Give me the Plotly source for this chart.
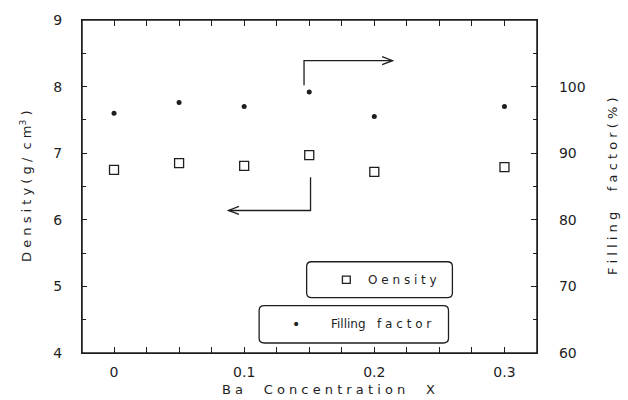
import plotly.graph_objects as go

ba_x = [0, 0.05, 0.1, 0.15, 0.2, 0.3]
density = [6.75, 6.85, 6.81, 6.97, 6.72, 6.79]
filling = [96.0, 97.6, 97.0, 99.2, 95.5, 97.0]
x_tick_vals = [0, 0.1, 0.2, 0.3]
x_tick_text = ["0", "0.1", "0.2", "0.3"]
y2_tick_vals = [60, 70, 80, 90, 100]

ink = "#1e1e1e"
font_family = "DejaVu Sans"

W, H = 628, 400
ml, mr, mt, mb = 82, 91, 14, 47
pw, ph = W - ml - mr, H - mt - mb
x_range = [-0.0246, 0.325]


def px(xp):
    return (xp - ml) / pw


def py(yp):
    return (H - mb - yp) / ph


fig = go.Figure()
fig.add_trace(go.Scatter(x=ba_x, y=density, mode="markers", name="Density",
                         marker=dict(symbol="square-open", size=9, color=ink, line=dict(width=1.3, color=ink)),
                         xaxis="x", yaxis="y", showlegend=False))
fig.add_trace(go.Scatter(x=ba_x, y=filling, mode="markers", name="Filling factor",
                         marker=dict(symbol="circle", size=5, color=ink),
                         xaxis="x", yaxis="y2", showlegend=False))

shapes = []
line = dict(color=ink, width=1.3)
# plot frame
shapes.append(dict(type="rect", xref="paper", yref="paper", x0=0, x1=1, y0=0, y1=1,
                   line=dict(color=ink, width=1.5), layer="above"))
# upper arrow (to right axis)
shapes.append(dict(type="path", xref="x", yref="y", line=line,
                   path="M 0.146 8.02 L 0.146 8.39 L 0.214 8.39"))
shapes.append(dict(type="path", xref="x", yref="y", line=line,
                   path="M 0.206 8.45 L 0.214 8.39 L 0.206 8.33"))
# lower arrow (to left axis)
shapes.append(dict(type="path", xref="x", yref="y", line=line,
                   path="M 0.151 6.64 L 0.151 6.14 L 0.088 6.14"))
shapes.append(dict(type="path", xref="x", yref="y", line=line,
                   path="M 0.096 6.20 L 0.088 6.14 L 0.096 6.08"))


def rounded(x0, x1, y0, y1, rx=0.004, ry=0.07):
    return (f"M {x0+rx} {y1} L {x1-rx} {y1} Q {x1} {y1} {x1} {y1-ry} "
            f"L {x1} {y0+ry} Q {x1} {y0} {x1-rx} {y0} L {x0+rx} {y0} "
            f"Q {x0} {y0} {x0} {y0+ry} L {x0} {y1-ry} Q {x0} {y1} {x0+rx} {y1} Z")

shapes.append(dict(type="path", xref="x", yref="y", line=line,
                   path=rounded(0.148, 0.26, 4.83, 5.37)))
shapes.append(dict(type="path", xref="x", yref="y", line=line,
                   path=rounded(0.1115, 0.257, 4.15, 4.71)))
# legend key square for Density
shapes.append(dict(type="rect", xref="x", yref="y", line=dict(color=ink, width=1.3),
                   x0=0.1755, x1=0.1815, y0=5.045, y1=5.155))

annotations = [
    dict(x=0.222, y=5.10, xref="x", yref="y", text="O e n s i t y", showarrow=False,
         font=dict(size=12, color=ink, family=font_family)),
    dict(x=0.140, y=4.43, xref="x", yref="y", text="•", showarrow=False,
         font=dict(size=14, color=ink, family=font_family)),
    dict(x=0.205, y=4.43, xref="x", yref="y", text="Filling &nbsp; f a c t o r", showarrow=False,
         font=dict(size=12, color=ink, family=font_family)),
    dict(x=px(26), y=py(183), xref="paper", yref="paper", xanchor="center", yanchor="middle",
         text="D e n s i t y ( g /  c m<sup>3</sup> )", textangle=-90, showarrow=False,
         font=dict(size=13, color=ink, family=font_family)),
    dict(x=px(612), y=py(183), xref="paper", yref="paper", xanchor="center", yanchor="middle",
         text="F i l l i n g &nbsp; &nbsp; f a c t o r ( % )", textangle=-90, showarrow=False,
         font=dict(size=13, color=ink, family=font_family)),
    dict(x=px(328), y=py(390), xref="paper", yref="paper", xanchor="center", yanchor="middle",
         text="B a &nbsp; &nbsp; C o n c e n t r a t i o n &nbsp; &nbsp; X", showarrow=False,
         font=dict(size=13, color=ink, family=font_family)),
]

fig.update_layout(
    width=W, height=H,
    margin=dict(l=ml, r=mr, t=mt, b=mb),
    paper_bgcolor="white", plot_bgcolor="white",
    font=dict(family=font_family, color=ink, size=13),
    shapes=shapes, annotations=annotations,
    xaxis=dict(range=x_range, tickvals=x_tick_vals, ticktext=x_tick_text,
               ticks="inside", ticklen=6, tickcolor=ink, tickwidth=1.2,
               minor=dict(dtick=0.025, tick0=0, ticks="inside", ticklen=5, tickcolor=ink),
               showline=True, linecolor=ink, linewidth=1.3, mirror="allticks",
               showgrid=False, zeroline=False, ticklabelstandoff=6,
               tickfont=dict(size=14, color=ink)),
    yaxis=dict(range=[4, 9], dtick=1, ticks="inside", ticklen=5, tickcolor=ink,
               minor=dict(dtick=0.5, ticks="inside", ticklen=4, tickcolor=ink),
               showline=True, linecolor=ink, linewidth=1.3,
               showgrid=False, zeroline=False, ticklabelstandoff=16,
               tickfont=dict(size=14, color=ink)),
    yaxis2=dict(range=[60, 110], tickvals=y2_tick_vals, overlaying="y", side="right",
                ticks="inside", ticklen=6, tickcolor=ink,
                minor=dict(dtick=5, ticks="inside", ticklen=4, tickcolor=ink),
                showline=True, linecolor=ink, linewidth=1.3,
                showgrid=False, zeroline=False, ticklabelstandoff=18,
                tickfont=dict(size=14, color=ink)),
)

fig.write_html("out.html")
